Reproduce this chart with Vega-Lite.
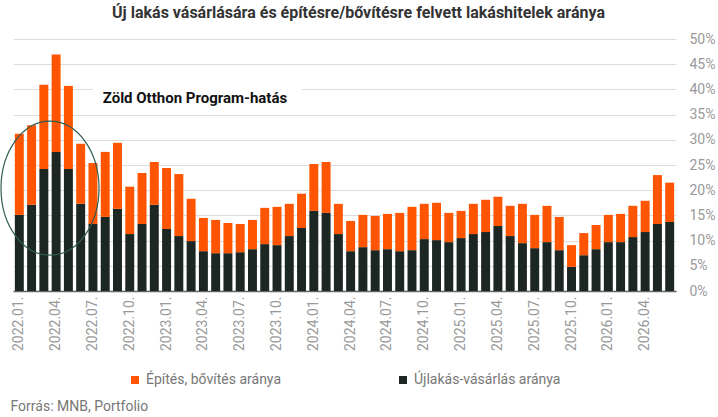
{
  "$schema": "https://vega.github.io/schema/vega-lite/v6.json",
  "description": "Új lakás vásárlására és építésre/bővítésre felvett lakáshitelek aránya",
  "autosize": "none",
  "width": 663,
  "height": 252,
  "padding": {"left": 13, "top": 39, "right": 42, "bottom": 126},
  "title": {
    "text": "Új lakás vásárlására és építésre/bővítésre felvett lakáshitelek aránya",
    "font": "Roboto",
    "fontSize": 16,
    "fontWeight": "bold",
    "color": "#333",
    "anchor": "middle",
    "dx": 14,
    "offset": 11
  },
  "datasets": {
    "hitelek": [
      {"month": "2022.01.", "ujlakas": 15.1, "epites": 16.1},
      {"month": "2022.02.", "ujlakas": 17.1, "epites": 15.8},
      {"month": "2022.03.", "ujlakas": 24.2, "epites": 16.7},
      {"month": "2022.04.", "ujlakas": 27.6, "epites": 19.3},
      {"month": "2022.05.", "ujlakas": 24.2, "epites": 16.5},
      {"month": "2022.06.", "ujlakas": 17.3, "epites": 11.9},
      {"month": "2022.07.", "ujlakas": 13.3, "epites": 12.1},
      {"month": "2022.08.", "ujlakas": 14.7, "epites": 12.9},
      {"month": "2022.09.", "ujlakas": 16.3, "epites": 13.1},
      {"month": "2022.10.", "ujlakas": 11.3, "epites": 9.4},
      {"month": "2022.11.", "ujlakas": 13.3, "epites": 10.1},
      {"month": "2022.12.", "ujlakas": 17.1, "epites": 8.5},
      {"month": "2023.01.", "ujlakas": 12.3, "epites": 12.1},
      {"month": "2023.02.", "ujlakas": 10.9, "epites": 12.3},
      {"month": "2023.03.", "ujlakas": 9.9, "epites": 8.4},
      {"month": "2023.04.", "ujlakas": 7.9, "epites": 6.6},
      {"month": "2023.05.", "ujlakas": 7.5, "epites": 6.6},
      {"month": "2023.06.", "ujlakas": 7.5, "epites": 6.0},
      {"month": "2023.07.", "ujlakas": 7.7, "epites": 5.6},
      {"month": "2023.08.", "ujlakas": 8.3, "epites": 5.8},
      {"month": "2023.09.", "ujlakas": 9.3, "epites": 7.2},
      {"month": "2023.10.", "ujlakas": 9.1, "epites": 7.6},
      {"month": "2023.11.", "ujlakas": 10.9, "epites": 6.4},
      {"month": "2023.12.", "ujlakas": 12.5, "epites": 6.8},
      {"month": "2024.01.", "ujlakas": 15.9, "epites": 9.3},
      {"month": "2024.02.", "ujlakas": 15.5, "epites": 10.1},
      {"month": "2024.03.", "ujlakas": 11.3, "epites": 6.0},
      {"month": "2024.04.", "ujlakas": 7.9, "epites": 6.0},
      {"month": "2024.05.", "ujlakas": 8.7, "epites": 6.4},
      {"month": "2024.06.", "ujlakas": 8.1, "epites": 6.8},
      {"month": "2024.07.", "ujlakas": 8.3, "epites": 7.0},
      {"month": "2024.08.", "ujlakas": 7.9, "epites": 7.6},
      {"month": "2024.09.", "ujlakas": 8.1, "epites": 8.6},
      {"month": "2024.10.", "ujlakas": 10.3, "epites": 7.0},
      {"month": "2024.11.", "ujlakas": 10.1, "epites": 7.4},
      {"month": "2024.12.", "ujlakas": 9.7, "epites": 5.8},
      {"month": "2025.01.", "ujlakas": 10.5, "epites": 5.4},
      {"month": "2025.02.", "ujlakas": 11.3, "epites": 6.0},
      {"month": "2025.03.", "ujlakas": 11.7, "epites": 6.4},
      {"month": "2025.04.", "ujlakas": 12.9, "epites": 5.8},
      {"month": "2025.05.", "ujlakas": 10.9, "epites": 6.0},
      {"month": "2025.06.", "ujlakas": 9.5, "epites": 7.8},
      {"month": "2025.07.", "ujlakas": 8.5, "epites": 6.6},
      {"month": "2025.08.", "ujlakas": 9.7, "epites": 7.2},
      {"month": "2025.09.", "ujlakas": 8.1, "epites": 6.6},
      {"month": "2025.10.", "ujlakas": 4.8, "epites": 4.3},
      {"month": "2025.11.", "ujlakas": 7.1, "epites": 4.4},
      {"month": "2025.12.", "ujlakas": 8.3, "epites": 4.8},
      {"month": "2026.01.", "ujlakas": 9.7, "epites": 5.4},
      {"month": "2026.02.", "ujlakas": 9.7, "epites": 5.6},
      {"month": "2026.03.", "ujlakas": 10.7, "epites": 6.2},
      {"month": "2026.04.", "ujlakas": 11.7, "epites": 6.2},
      {"month": "2026.05.", "ujlakas": 13.3, "epites": 9.7},
      {"month": "2026.06.", "ujlakas": 13.7, "epites": 7.8}
    ]
  },
  "encoding": {
    "x": {
      "field": "month",
      "type": "ordinal",
      "scale": {"paddingInner": 0.27, "paddingOuter": 0.15},
      "axis": {
        "values": ["2022.01.", "2022.04.", "2022.07.", "2022.10.", "2023.01.", "2023.04.", "2023.07.", "2023.10.", "2024.01.", "2024.04.", "2024.07.", "2024.10.", "2025.01.", "2025.04.", "2025.07.", "2025.10.", "2026.01.", "2026.04."],
        "labelAngle": 270,
        "labelFontSize": 14,
        "labelColor": "#999",
        "labelPadding": 5,
        "ticks": false,
        "grid": false,
        "domainColor": "#666",
        "domainWidth": 1.5,
        "title": "Forrás: MNB, Portfolio",
        "titleAnchor": "start",
        "titleAlign": "left",
        "titleBaseline": "alphabetic",
        "titleX": -3,
        "titleY": 119,
        "titleFontSize": 14,
        "titleFontWeight": "normal",
        "titleColor": "#777"
      }
    },
    "y": {
      "field": "value",
      "type": "quantitative",
      "scale": {"domain": [0, 50], "nice": false},
      "axis": {
        "orient": "right",
        "values": [0, 5, 10, 15, 20, 25, 30, 35, 40, 45, 50],
        "labelExpr": "datum.value + '%'",
        "labelAlign": "left",
        "labelPadding": 13,
        "labelFontSize": 14,
        "labelColor": "#999",
        "domain": false,
        "ticks": false,
        "gridColor": "#ddd",
        "gridWidth": 1,
        "title": null
      }
    }
  },
  "layer": [
    {
      "data": {"name": "hitelek"},
      "transform": [
        {"fold": ["ujlakas", "epites"], "as": ["series", "value"]}
      ],
      "mark": {"type": "bar"},
      "encoding": {
        "color": {
          "field": "series",
          "type": "nominal",
          "scale": {"domain": ["epites", "ujlakas"], "range": ["#ff5500", "#1c2622"]},
          "legend": {
            "title": null,
            "orient": "none",
            "legendX": 115,
            "legendY": 334,
            "direction": "horizontal",
            "columns": 2,
            "columnPadding": 114,
            "symbolType": "square",
            "symbolSize": 64,
            "symbolStrokeWidth": 0,
            "labelOffset": 4,
            "labelFontSize": 14,
            "labelColor": "#777",
            "labelLimit": 300,
            "labelExpr": "datum.label == 'epites' ? 'Építés, bővítés aránya' : 'Újlakás-vásárlás aránya'"
          }
        },
        "order": {"field": "series", "sort": "descending"}
      }
    },
    {
      "data": {"values": [{"month": "2022.07.", "month2": "2023.12.", "value": 36.5, "value2": 43}]},
      "mark": {"type": "rect", "fill": "white"},
      "encoding": {
        "x2": {"field": "month2"},
        "y2": {"field": "value2"}
      }
    },
    {
      "data": {"values": [{"month": "2022.04.", "value": 20.4}]},
      "mark": {
        "type": "point",
        "shape": "M -1.125 0 C -1.125 -0.755 -0.6773 -1.367 -0.125 -1.367 C 0.4273 -1.367 0.875 -0.755 0.875 0 C 0.875 0.755 0.4273 1.367 -0.125 1.367 C -0.6773 1.367 -1.125 0.755 -1.125 0 Z",
        "size": 9604,
        "filled": false,
        "stroke": "#2f5d4f",
        "strokeWidth": 1.2,
        "opacity": 1
      }
    },
    {
      "data": {"values": [{"month": "2022.08.", "value": 38.3, "label": "Zöld Otthon Program-hatás"}]},
      "mark": {
        "type": "text",
        "align": "left",
        "baseline": "middle",
        "dx": -2.5,
        "font": "Roboto",
        "fontSize": 15,
        "fontWeight": "bold",
        "color": "#111"
      },
      "encoding": {
        "text": {"field": "label"}
      }
    }
  ],
  "config": {
    "font": "Roboto",
    "view": {"stroke": null},
    "axis": {"labelFont": "Roboto", "titleFont": "Roboto"},
    "legend": {"labelFont": "Roboto"}
  }
}
